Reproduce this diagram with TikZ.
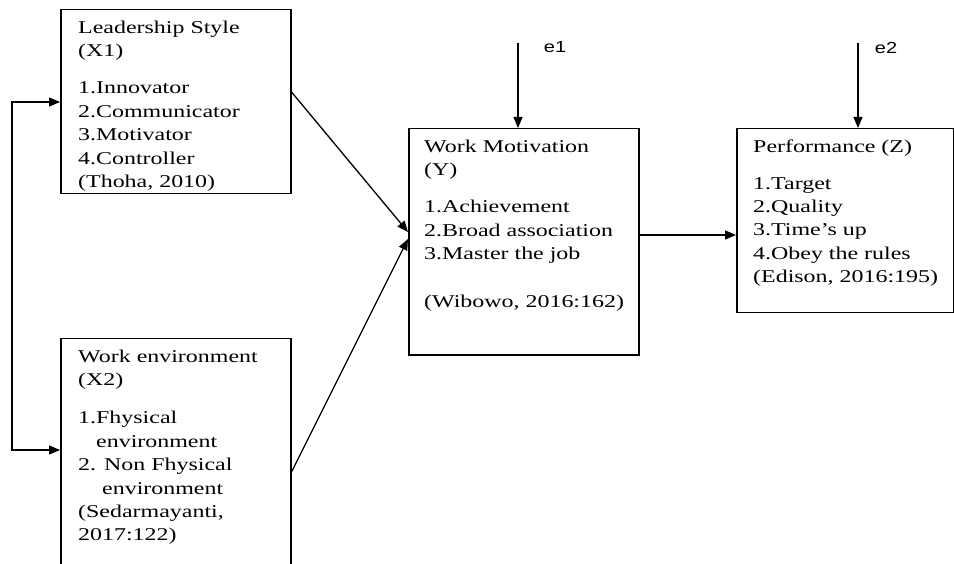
\documentclass[tikz,border=0pt]{standalone}
\usepackage{fontspec}
\setmainfont{Liberation Serif}[FakeStretch=1.33]
\newfontfamily\lblfont{Liberation Sans}[FakeStretch=1.25]
\usetikzlibrary{arrows.meta}
\begin{document}
\begin{tikzpicture}[x=1pt,y=-1pt,
  box/.style={draw, line width=1.5pt, inner sep=0pt, anchor=north west},
  txt/.style={anchor=north west, inner sep=0pt, align=left, font=\fontsize{18}{23.4}\selectfont},
  lbl/.style={inner sep=0pt, font=\lblfont\fontsize{16}{18}\selectfont},
  arr/.style={line width=1.3pt, -{Triangle[length=11pt,width=9pt]}},
  arrs/.style={line width=1.3pt, {Triangle[length=11pt,width=9pt]}-{Triangle[length=11pt,width=9pt]}}]
\useasboundingbox (0,0) rectangle (954,564);
\clip (0,0) rectangle (954,564);
% boxes
\node[box, minimum width=230pt, minimum height=184pt] (x1) at (60,9) {};
\node[box, minimum width=230pt, minimum height=240pt] (x2) at (60,338) {};
\node[box, minimum width=230pt, minimum height=226pt] (y) at (408,128) {};
\node[box, minimum width=217pt, minimum height=184pt] (z) at (736,128) {};
% texts
\node[txt] (t1) at (78,16.6) {\strut Leadership Style\\(X1)\\[14pt]1.Innovator\\2.Communicator\\3.Motivator\\4.Controller\\(Thoha, 2010)};
\node[txt] (t2) at (78,345.6) {\strut Work environment\\(X2)\\[15pt]1.Fhysical\\\hspace*{18pt}environment\\2. Non Fhysical\\\hspace*{24pt}environment\\(Sedarmayanti,\\2017:122)};
\node[txt] (t3) at (424,135.6) {\strut Work Motivation\\(Y)\\[14pt]1.Achievement\\2.Broad association\\3.Master the job\\[24pt](Wibowo, 2016:162)};
\node[txt] (t4) at (753,135.6) {\strut Performance (Z)\\[13.6pt]1.Target\\2.Quality\\3.Time’s up\\4.Obey the rules\\(Edison, 2016:195)};
% error terms
\coordinate (e1) at (518,43);
\coordinate (e2) at (858,43);
\node[lbl] (e1l) at (555,47.5) {e1};
\node[lbl] (e2l) at (886,47.5) {e2};
\draw[arr] (e1) -- (e1 |- y.north);
\draw[arr] (e2) -- (e2 |- z.north);
% paths
\draw[arr] ([yshift=-83pt]x1.north east) -- ([yshift=-104pt]y.north west);
\draw[arr] ([yshift=-134pt]x2.north west -| x2.east) -- ([yshift=-111pt]y.north west);
\draw[arr] ([yshift=-107pt]y.north east) -- ([yshift=-107pt]z.north west);
\coordinate (lp) at (12,102);
\draw[arrs] ([yshift=-93pt]x1.north west) -- (lp) |- ([yshift=-112pt]x2.north west);
\end{tikzpicture}
\end{document}
